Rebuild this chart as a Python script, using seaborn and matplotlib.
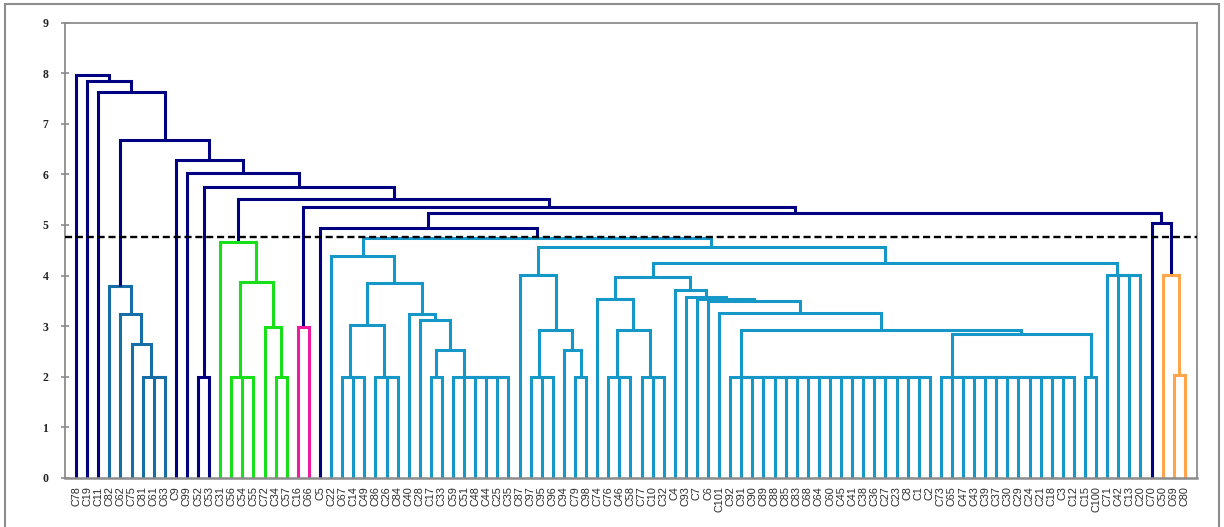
import matplotlib
matplotlib.use("Agg")
import matplotlib.pyplot as plt
import numpy as np
import pandas as pd
import seaborn as sns
from matplotlib.patches import Rectangle

# leaves in the order they appear along the x axis
leaf_labels = ["C78", "C19", "C11", "C82", "C62", "C75", "C81", "C61", "C63", "C9",
               "C99", "C52", "C53", "C31", "C56", "C54", "C55", "C72", "C34", "C57",
               "C16", "C66", "C5", "C22", "C67", "C14", "C49", "C86", "C26", "C84",
               "C40", "C28", "C17", "C33", "C59", "C51", "C48", "C44", "C25", "C35",
               "C87", "C97", "C95", "C96", "C94", "C79", "C98", "C74", "C76", "C46",
               "C58", "C77", "C10", "C32", "C4", "C93", "C7", "C6", "C101", "C92",
               "C91", "C90", "C89", "C88", "C85", "C83", "C68", "C64", "C60", "C45",
               "C41", "C38", "C36", "C27", "C23", "C8", "C1", "C2", "C73", "C65",
               "C47", "C43", "C39", "C37", "C30", "C29", "C24", "C21", "C18", "C3",
               "C12", "C15", "C100", "C71", "C42", "C13", "C20", "C70", "C50", "C69",
               "C80"]

# colour group of each run of leaves, left to right
cluster_runs = [("navy", 3), ("steel", 6), ("navy", 4), ("green", 7), ("pink", 2),
                ("navy", 1), ("teal", 74), ("navy", 1), ("orange", 3)]
cluster_colors = {"navy": "#000080", "steel": "#176ea6", "green": "#17e018",
                  "pink": "#ee1aa0", "teal": "#1597c7", "orange": "#ffa64d"}

cut_height = 4.77

# merge tree: (height, child, child, ...) ; more than two children = same-level merges
steel = (3.79, 3, (3.24, 4, (2.65, 5, (2.0, 6, 7, 8))))
green = (4.66, 13, (3.88, (2.0, 14, 15, 16), (2.99, 17, (2.0, 18, 19))))
pink = (2.99, 20, 21)

t6 = (2.52, (2.0, 32, 33), (2.0, 34, 35, 36, 37, 38, 39))
t3 = (3.03, (2.0, 24, 25, 26), (2.0, 27, 28, 29))
t1 = (4.39, 23, (3.86, t3, (3.25, 30, (3.13, 31, t6))))

u2 = (4.02, 40, (2.92, (2.0, 41, 42, 43), (2.52, 44, (2.0, 45, 46))))
v3 = (3.53, 47, (2.92, (2.0, 48, 49, 50), (2.0, 51, 52, 53)))
v11 = (2.84, (2.0, *range(78, 91)), (2.0, 91, 92))
v9 = (3.27, 58, (2.92, (2.0, *range(59, 78)), v11))
v5 = (3.71, 54, (3.57, 55, (3.54, 56, (3.50, 57, v9))))
v1 = (4.25, (3.97, v3, v5), (4.02, 93, 94, 95, 96))
teal = (4.75, t1, (4.56, u2, v1))

orange = (4.02, 98, (2.03, 99, 100))

node_i = (5.24, (4.94, 22, teal), (5.03, 97, orange))
node_g = (5.52, green, (5.36, pink, node_i))
node_e = (6.03, 10, (5.74, (2.0, 11, 12), node_g))
tree = (7.96, 0, (7.84, 1, (7.63, 2, (6.67, steel, (6.28, 9, node_e)))))


leaf_group = []
for name, n in cluster_runs:
    leaf_group += [name] * n


def binarize(node):
    if isinstance(node, int):
        return node
    h, *kids = node
    kids = [binarize(k) for k in kids]
    while len(kids) > 2:
        kids = kids[:-2] + [(h, kids[-2], kids[-1])]
    return (h, kids[0], kids[1])


rows = []


def walk(node):
    if isinstance(node, int):
        return float(node), 0.0, {leaf_group[node]}
    h, a, b = node
    xa, ha, ga = walk(a)
    xb, hb, gb = walk(b)
    groups = ga | gb
    col = list(groups)[0] if len(groups) == 1 else "navy"
    link = len(rows)
    for x, y in [(xa, ha), (xa, h), (xb, h), (xb, hb)]:
        rows.append({"link": link, "x": x, "y": y, "cluster": col})
    return (xa + xb) / 2, h, groups


walk(binarize(tree))
links = pd.DataFrame(rows)

sns.set_theme(style="white")
plt.rcParams["font.family"] = ["Liberation Sans", "DejaVu Sans"]

fig, ax = plt.subplots(figsize=(12.24, 5.27), dpi=100)
fig.subplots_adjust(left=65 / 1224, right=1197 / 1224, bottom=1 - 478 / 527, top=1 - 22.5 / 527)

sns.lineplot(data=links, x="x", y="y", units="link", hue="cluster", palette=cluster_colors,
             estimator=None, sort=False, legend=False, lw=2.2, ax=ax,
             solid_joinstyle="miter", solid_capstyle="butt")
ax.axhline(cut_height, color="black", lw=1.7, ls=(0, (3, 1.6)), zorder=5)

ax.set_xlim(-1, 101.1)
ax.set_ylim(0, 9)
ax.set_xticks(np.arange(len(leaf_labels)))
ax.set_xticklabels(leaf_labels, rotation=90, fontsize=7.8, color="#2a2a2a")
ax.set_yticks(range(10))
ax.set_yticklabels([str(i) for i in range(10)], fontsize=8.5, fontweight="bold",
                   family="Liberation Serif", color="#222222")
ax.set_xlabel("")
ax.set_ylabel("")
ax.tick_params(axis="x", length=0, pad=6)
ax.tick_params(axis="y", direction="inout", length=6, width=1.2, color="#8c8c8c", pad=9, left=True)
for side, sp in ax.spines.items():
    sp.set_visible(True)
    sp.set_color("#8c8c8c")
    sp.set_linewidth(1.3 if side != "bottom" else 1.8)

fig.patches.append(Rectangle((5 / 1224, -0.05), 1214 / 1224, 1.05 - 4 / 527, transform=fig.transFigure,
                             fill=False, edgecolor="#8c8c8c", lw=1.5))

fig.savefig("out.png", dpi=100)
